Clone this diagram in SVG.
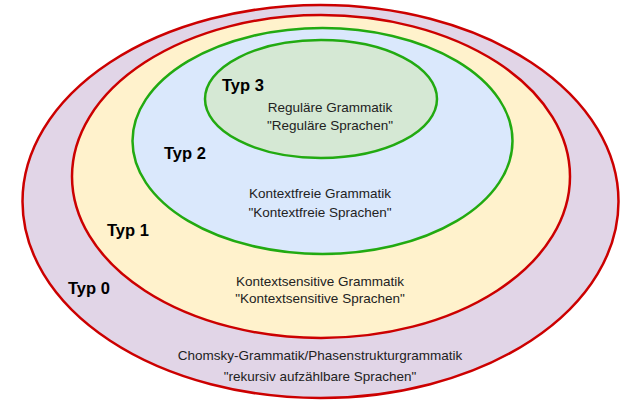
<svg xmlns="http://www.w3.org/2000/svg" width="622" height="401" viewBox="0 0 622 401">
<style>
.red{stroke:#cc0000;stroke-width:2.5}
.grn{stroke:#22aa11;stroke-width:2.5}
.lbl{font-family:"Liberation Sans",Arial,sans-serif;font-size:13.5px;fill:#222;text-anchor:middle}
.typ{font-family:"Liberation Sans",Arial,sans-serif;font-size:16.5px;font-weight:bold;fill:#000}
</style>
<rect width="622" height="401" fill="#ffffff"/>
<g id="typ0">
<ellipse cx="320.5" cy="201.5" rx="298" ry="196.5" fill="#e1d5e7" class="red"/>
<text class="typ" x="68" y="294">Typ 0</text>
<text class="lbl" x="320" y="360">Chomsky-Grammatik/Phasenstrukturgrammatik</text>
<text class="lbl" x="320" y="381">"rekursiv aufzählbare Sprachen"</text>
</g>
<g id="typ1">
<ellipse cx="321" cy="176.5" rx="249" ry="161.5" fill="#fff2cc" class="red"/>
<text class="typ" x="107" y="236">Typ 1</text>
<text class="lbl" x="320" y="286">Kontextsensitive Grammatik</text>
<text class="lbl" x="320" y="303">"Kontextsensitive Sprachen"</text>
</g>
<g id="typ2">
<ellipse cx="322.5" cy="141" rx="190" ry="113" fill="#dae8fc" class="grn"/>
<text class="typ" x="164" y="159">Typ 2</text>
<text class="lbl" x="320" y="198">Kontextfreie Grammatik</text>
<text class="lbl" x="320" y="217">"Kontextfreie Sprachen"</text>
</g>
<g id="typ3">
<ellipse cx="321" cy="99" rx="116" ry="59" fill="#d5e8d4" class="grn"/>
<text class="typ" x="222" y="91">Typ 3</text>
<text class="lbl" x="330" y="112">Reguläre Grammatik</text>
<text class="lbl" x="330" y="130">"Reguläre Sprachen"</text>
</g>
<g id="connectors"/>
</svg>
